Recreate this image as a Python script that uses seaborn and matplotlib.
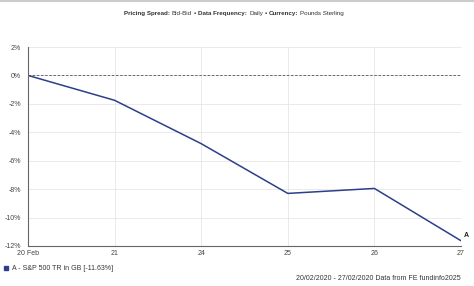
import numpy as np
import pandas as pd
import matplotlib
matplotlib.use("Agg")
import matplotlib.pyplot as plt
import seaborn as sns

# data
dates = ["20 Feb", "21", "24", "25", "26", "27"]
values = [0.0, -1.75, -4.8, -8.3, -7.95, -11.63]
yticks = [2, 0, -2, -4, -6, -8, -10, -12]

df = pd.DataFrame({"pos": np.arange(len(dates)), "value": values})

sns.set_style("white")
plt.rcParams["font.family"] = ["Liberation Sans", "DejaVu Sans"]

fig = plt.figure(figsize=(4.74, 2.86), dpi=100)
ax = fig.add_axes([28 / 474, 1 - 246 / 286, (461 - 28) / 474, (246 - 47) / 286])

line_col = "#2b3f8c"
sns.lineplot(data=df, x="pos", y="value", ax=ax, color=line_col, linewidth=1.1)

ax.axhline(0, color="#555555", linestyle=(0, (3, 2)), linewidth=0.6, zorder=1)

ax.set_xlim(0, len(dates) - 1)
ax.set_ylim(-12, 2)
ax.set_xticks(df["pos"])
ax.set_xticklabels(dates)
ax.set_yticks(yticks)
ax.set_yticklabels([f"{t}%" for t in yticks])
ax.set_xlabel("")
ax.set_ylabel("")
ax.tick_params(axis="both", labelsize=5, colors="#444444", length=2, width=0.5, pad=1)
ax.tick_params(axis="y", length=0, pad=5)

ax.grid(True, color="#e6e6e6", linewidth=0.6)
ax.set_axisbelow(True)
for side in ["top", "right"]:
    ax.spines[side].set_visible(False)
for side in ["left", "bottom"]:
    ax.spines[side].set_color("#666666")
    ax.spines[side].set_linewidth(0.8)

# end label
ax.annotate("A", (df["pos"].iloc[-1], values[-1]), xytext=(2, 1), textcoords="offset points",
            fontsize=5, fontweight="bold", color="#222222", va="bottom", annotation_clip=False)

# header line and title with bold/regular pieces
fig.add_artist(plt.Line2D([0, 1], [0.997, 0.997], color="#cccccc", linewidth=1.5))
pieces = [("Pricing Spread:", "bold"), ("Bid-Bid", "normal"), ("\u2022", "bold"),
          ("Data Frequency:", "bold"), ("Daily", "normal"), ("\u2022", "bold"),
          ("Currency:", "bold"), ("Pounds Sterling", "normal")]
prev = fig.text(124 / 474, 1 - 16 / 286, pieces[0][0], fontsize=4.5,
                fontweight=pieces[0][1], color="#333333", va="bottom")
for s, w in pieces[1:]:
    # chain each piece to the right edge of the previous one
    prev = ax.annotate(s, xy=(1, 0), xycoords=prev, xytext=(1.4, 0),
                       textcoords="offset points", fontsize=4.5, fontweight=w,
                       color="#333333", va="bottom", ha="left", annotation_clip=False)

# legend
fig.patches.append(plt.Rectangle((4 / 474, 1 - 270 / 286), 4 / 474, 4 / 286,
                                 transform=fig.transFigure, color=line_col, figure=fig))
fig.text(12 / 474, 1 - 268 / 286, "A - S&P 500 TR in GB [-11.63%]", fontsize=5,
         color="#333333", va="center")
fig.text(461 / 474, 1 - 279 / 286, "20/02/2020 - 27/02/2020 Data from FE fundinfo2025",
         fontsize=5, color="#333333", va="center", ha="right")

fig.savefig("out.png", dpi=100, facecolor="white")
